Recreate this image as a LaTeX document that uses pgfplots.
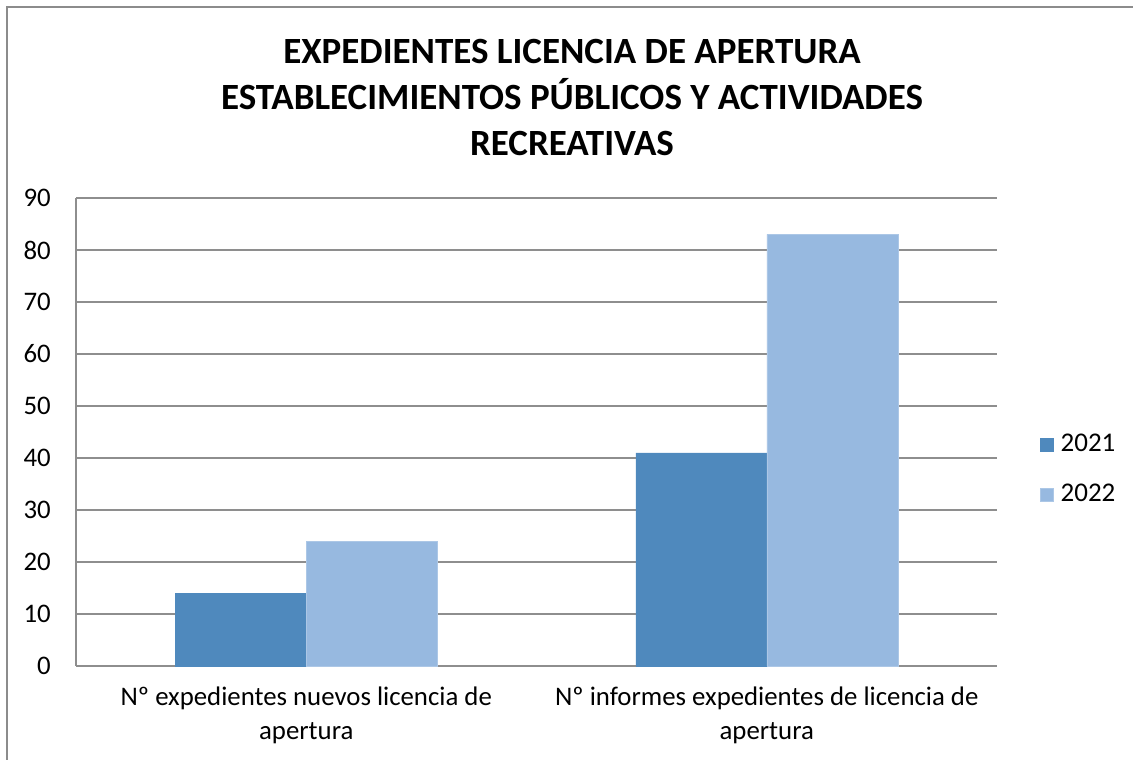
\documentclass[border=0pt]{standalone}
\usepackage{pgfplots}
\pgfplotsset{compat=1.18}
\usepackage{fontspec}
\setmainfont{Carlito}
\definecolor{c2021}{HTML}{4F89BD}
\definecolor{c2022}{HTML}{97B9E0}
\definecolor{gridc}{HTML}{8E8E8E}
\definecolor{framec}{HTML}{8C8C8C}
\begin{document}
\begin{tikzpicture}[x=1pt,y=1pt]
\path[use as bounding box] (0,0) rectangle (1133,760);
\draw[framec, line width=2pt] (7,0) -- (7,753) -- (1133,753);
\node[font=\fontsize{37}{46}\selectfont\bfseries, align=center] at (572,662) {EXPEDIENTES LICENCIA DE APERTURA\\ESTABLECIMIENTOS PÚBLICOS Y ACTIVIDADES\\RECREATIVAS};
\begin{axis}[
  at={(76pt,94pt)}, anchor=south west,
  scale only axis, width=921pt, height=468pt,
  ybar=0pt, bar width=131pt,
  xmin=-0.5, xmax=1.5, ymin=0, ymax=90,
  xtick=data,
  xticklabels={{Nº expedientes nuevos licencia de\\apertura},{Nº informes expedientes de licencia de\\apertura}},
  ytick={0,10,...,90},
  major tick length=0pt,
  axis x line*=bottom, axis y line*=left,
  axis line style={gridc, line width=1.3pt},
  ymajorgrids, grid style={gridc, line width=1.3pt},
  tick label style={font=\fontsize{26.8}{34}\selectfont},
  /pgf/number format/assume math mode=true,
  yticklabel style={inner sep=0pt, anchor=east, xshift=-25pt},
  xticklabel style={align=center, inner sep=0pt, anchor=north, yshift=-21pt},
  legend style={at={(1.0467,0.419)}, anchor=west, draw=none, fill=none, inner sep=0pt,
    font=\fontsize{27}{32}\selectfont,
    nodes={inner sep=0pt, text height=18pt, text depth=5pt, anchor=west},
    row sep=27pt},
  legend cell align=left,
  legend image code/.code={\fill[#1] (0pt,-6.5pt) rectangle (13pt,6.5pt);},
  clip=false,
]
\addplot[fill=c2021, draw=c2021] coordinates {(0,14) (1,41)};
\addplot[fill=c2022, draw=c2022!80!white] coordinates {(0,24) (1,83)};
\legend{\hspace{7pt}2021,\hspace{7pt}2022}
\end{axis}
\end{tikzpicture}
\end{document}
